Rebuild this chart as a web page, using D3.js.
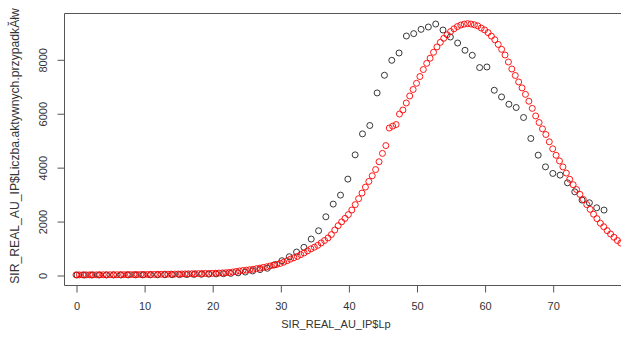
<!DOCTYPE html>
<html><head><meta charset="utf-8">
<script src="https://cdn.jsdelivr.net/npm/d3@7"></script>
<style>body{margin:0;background:#fff}svg{display:block}</style>
</head><body>
<svg id="chart" width="621" height="346"></svg>
<script>
// ----- data -----
const xTicks = [0, 10, 20, 30, 40, 50, 60, 70];
const yTicks = [0, 2000, 4000, 6000, 8000];
const xLabel = "SIR_REAL_AU_IP$Lp";
const yLabel = "SIR_REAL_AU_IP$Liczba.aktywnych.przypadkĂłw";

// observed (black)
const obsX = [0.15,1.22,2.30,3.37,4.45,5.52,6.60,7.67,8.75,9.82,10.90,11.97,13.05,14.12,15.20,16.27,17.35,18.42,19.50,20.57,
  21.65,22.72,23.80,24.87,25.94,27.02,28.09,29.17,30.24,31.32,32.39,33.47,34.54,35.62,36.69,37.77,38.84,39.92,40.99,42.07,
  43.14,44.22,45.29,46.37,47.44,48.52,49.59,50.67,51.74,52.82,53.89,54.97,56.04,57.12,58.19,59.27,60.34,61.42,62.49,63.57,
  64.64,65.72,66.79,67.87,68.94,70.02,71.09,72.17,73.24,74.31,75.39,76.46,77.54];
const obsY = [0,0,0,1,1,2,2,3,4,5,6,8,10,12,15,18,22,27,33,40,
  48,60,80,110,150,200,250,380,530,678,852,1026,1333,1641,2159,2630,2963,3556,4456,5234,
  5545,6752,7408,7963,8234,8864,8952,9111,9197,9308,9086,8827,8604,8334,8149,7693,7715,6852,6604,6334,
  6212,5841,5063,4445,4011,3767,3704,3419,3085,2778,2678,2493,2408];

// SIR model (red)
const simX = d3.range(0, 161).map(k => k / 2);
const simY = [5,5,6,6,7,7,8,8,9,9,10,11,11,12,13,14,15,16,17,18,
  19,20,22,23,25,26,28,30,32,34,36,38,41,43,46,49,52,55,58,58,
  62,67,72,78,84,95,110,130,150,165,180,195,210,235,255,280,305,335,365,395,
  430,475,530,590,640,690,755,820,895,970,1030,1100,1190,1280,1375,1500,1670,1830,1970,2100,
  2240,2410,2610,2830,3040,3260,3470,3680,3910,4200,4510,4800,5450,5520,5580,5970,6120,6380,6640,6880,
  7110,7360,7620,7850,8040,8260,8460,8630,8780,8910,9030,9130,9215,9270,9305,9323,9307,9280,9240,9160,
  9090,8990,8860,8725,8550,8370,8160,7900,7640,7400,7160,6940,6700,6445,6180,5900,5656,5420,5210,4940,
  4680,4440,4230,4010,3780,3550,3350,3170,2990,2800,2610,2435,2255,2090,1920,1790,1645,1520,1400,1280,1185];

// ----- drawing -----
const svg = d3.select("#chart");
const font = "'Liberation Sans', Arial, sans-serif";
const box = {left: 64, top: 13, bottom: 285, right: 760};

const x = d3.scaleLinear().domain([0, 70]).range([76, 552.7]);
const y = d3.scaleLinear().domain([0, 8000]).range([275, 59.3]);

svg.append("clipPath").attr("id", "clip").append("rect")
  .attr("x", box.left).attr("y", box.top)
  .attr("width", box.right - box.left).attr("height", box.bottom - box.top);

const plot = svg.append("g").attr("clip-path", "url(#clip)");

plot.selectAll("circle.obs").data(obsX.map((v, i) => [v, obsY[i]])).join("circle")
  .attr("class", "obs")
  .attr("cx", d => x(d[0])).attr("cy", d => y(d[1])).attr("r", 3)
  .attr("fill", "none").attr("stroke", "#222").attr("stroke-width", 0.9);

plot.selectAll("circle.sim").data(simX.map((v, i) => [v, simY[i]])).join("circle")
  .attr("class", "sim")
  .attr("cx", d => x(d[0])).attr("cy", d => y(d[1])).attr("r", 3)
  .attr("fill", "none").attr("stroke", "#ff0000").attr("stroke-width", 0.9);

// box
svg.append("path")
  .attr("d", `M${box.right},${box.top + 0.5}H${box.left + 0.5}V${box.bottom + 0.5}H${box.right}`)
  .attr("fill", "none").attr("stroke", "#555").attr("stroke-width", 1);

// x axis
const gx = svg.append("g").attr("transform", `translate(0.5,${box.bottom + 0.5})`)
  .call(d3.axisBottom(x).tickValues(xTicks).tickSize(7).tickPadding(10).tickFormat(d3.format("d")));
gx.select(".domain").remove();
gx.selectAll("line").attr("stroke", "#555");
gx.selectAll("text").attr("font-family", font).attr("font-size", 11).attr("fill", "#333");

// y axis
const gy = svg.append("g").attr("transform", `translate(${box.left + 0.5},0.5)`)
  .call(d3.axisLeft(y).tickValues(yTicks).tickSize(7).tickFormat(d3.format("d")));
gy.select(".domain").remove();
gy.selectAll("line").attr("stroke", "#555");
gy.selectAll("text")
  .attr("font-family", font).attr("font-size", 11).attr("fill", "#333")
  .attr("x", null).attr("dy", null)
  .attr("text-anchor", "middle")
  .attr("transform", "translate(-18,0) rotate(-90)");

// axis titles
svg.append("text").attr("x", 336).attr("y", 328)
  .attr("text-anchor", "middle").attr("font-family", font).attr("font-size", 11).attr("fill", "#333")
  .text(xLabel);
svg.append("text").attr("transform", "translate(19,146) rotate(-90)")
  .attr("text-anchor", "middle").attr("font-family", font).attr("font-size", 12.2).attr("fill", "#333")
  .text(yLabel);
</script>
</body></html>
